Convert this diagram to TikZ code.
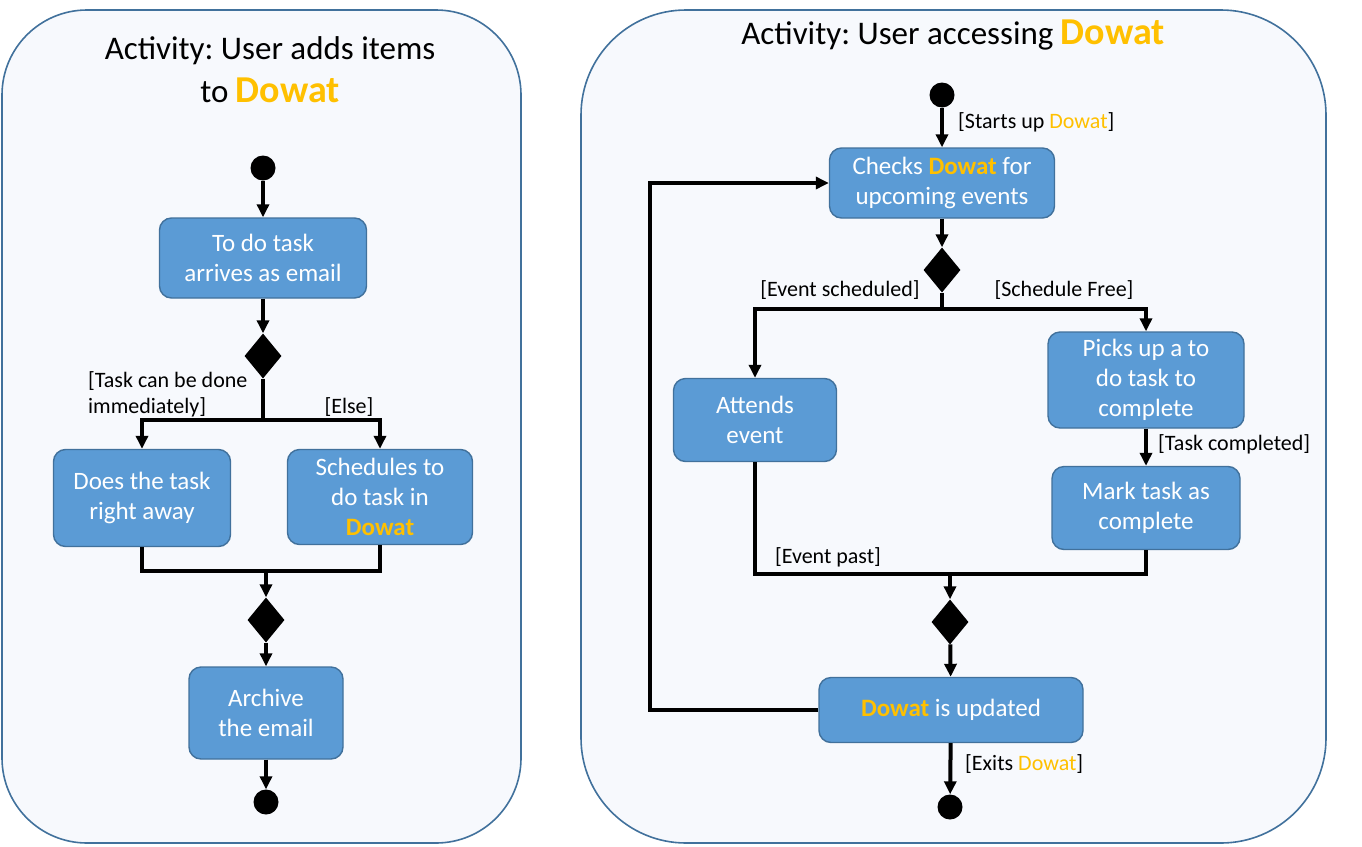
\documentclass[tikz,border=0pt]{standalone}
\usepackage{fontspec}
\setmainfont{Carlito}
\usepackage{xcolor}
\usetikzlibrary{shapes.geometric}
\usetikzlibrary{arrows.meta}
\definecolor{boxblue}{HTML}{5B9BD5}
\definecolor{boxedge}{HTML}{41719C}
\definecolor{panelfill}{HTML}{F7F9FD}
\definecolor{dowatyellow}{HTML}{FFC000}
\newcommand{\dowat}{\textcolor{dowatyellow}{Dowat}}
\newcommand{\bigdowat}{{\fontsize{38}{43}\selectfont\bfseries\dowat}}
\frenchspacing

\begin{document}
\begin{tikzpicture}[
x = 1pt, y = -1pt,
panel/.style={rectangle, draw = boxedge, fill = panelfill, line width = 1.6pt},
actbox/.style={rectangle, align = center, 
draw = boxedge, fill = boxblue, line width = 1.4pt, text = white, rounded corners = 12pt,
font = \fontsize{25}{30}\selectfont}, 
decision/.style={diamond, fill = black, inner sep = 0pt, minimum width = 37pt, minimum height = 45pt},
dot/.style={circle, fill = black, inner sep = 0pt, minimum size = 25pt},
flowarr/.style={>={Triangle[length=13pt, width=12pt]}, ->, line width = 4pt, draw = black}, 
barline/.style={line width = 4pt, draw = black},
guard/.style={inner sep = 0pt, align = left, font = \fontsize{22}{26}\selectfont},
headline/.style={align = center, font = \fontsize{33}{43}\selectfont}]

\useasboundingbox (0,0) rectangle (1362,846);

\node[panel, rounded corners = 85pt, minimum width = 519pt, minimum height = 833pt] (leftpanel) at (261.5,426.5) {};
\node[panel, rounded corners = 105pt, minimum width = 745pt, minimum height = 833pt] (rightpanel) at (953.5,426.5) {};

% user adds items
\node[headline] (title1) at (270,70) {Activity: User adds items\\to \bigdowat};
\node[dot] (start1) at (263,168) {};
\node[actbox, minimum width = 207pt, minimum height = 80pt] (mail) at (263,258) {To do task\\arrives as email};
\node[decision] (D1) at (263,356) {};
\coordinate (fork1) at (263,420);
\node[actbox, minimum width = 177pt, minimum height = 97pt] (now) at (142,498) {Does the task\\right away};
\node[actbox, minimum width = 185pt, minimum height = 95pt] (sched) at (380,497) {Schedules to\\do task in\\{\bfseries\dowat}};
\coordinate (join1) at (266,571);
\node[decision] (D2) at (266,620) {};
\node[actbox, minimum width = 154pt, minimum height = 92pt] (arch) at (266,713) {Archive\\the email};
\node[dot] (end1) at (266,802) {};

\node[guard, anchor = west] (Gnow) at (88,394) {[Task can be done\\immediately]};
\node[guard] (Gelse) at (349,407) {[Else]};

\draw[flowarr] (start1) -- (mail);
\draw[flowarr] (mail) -- (D1);
\draw[barline] (D1) -- (fork1);
\draw[flowarr] (fork1) -| (now);
\draw[flowarr] (fork1) -| (sched);
\draw[barline] (now) |- (join1) -| (sched);
\draw[flowarr] (join1) -- (D2);
\draw[flowarr] (D2) -- (arch);
\draw[flowarr] (arch) -- (end1);

% user accessing
\node[headline] (title2) at (953,35) {Activity: User accessing \bigdowat};
\node[dot] (start2) at (942,95) {};
\node[actbox, minimum width = 225pt, minimum height = 70pt] (check) at (942,183) {Checks {\bfseries\dowat} for\\upcoming events};
\node[decision] (D3) at (942,270) {};
\coordinate (fork2) at (942,309);
\node[actbox, minimum width = 163pt, minimum height = 83pt] (attend) at (755,420) {Attends\\event};
\node[actbox, minimum width = 196pt, minimum height = 96pt] (pick) at (1146,380) {Picks up a to\\do task to\\complete};
\node[actbox, minimum width = 188pt, minimum height = 83pt] (mark) at (1146,508) {Mark task as\\complete};
\coordinate (join2) at (950,574);
\node[decision] (D4) at (950,622) {};
\node[actbox, minimum width = 264pt, minimum height = 65pt] (upd) at (951,710) {{\bfseries\dowat} is updated};
\node[dot] (end2) at (950,807) {};
\coordinate (loop) at (650,710);

\node[guard, anchor = west] (Gstart) at (958,122) {[Starts up \dowat]};
\node[guard] (Gevent) at (840,290) {[Event scheduled]};
\node[guard] (Gfree) at (1064,290) {[Schedule Free]};
\node[guard, anchor = west] (Gdone) at (1158,444) {[Task completed]};
\node[guard] (Gpast) at (828,557) {[Event past]};
\node[guard, anchor = west] (Gexit) at (965,764) {[Exits \dowat]};

\draw[flowarr] (start2) -- (check);
\draw[flowarr] (check) -- (D3);
\draw[barline] (D3) -- (fork2);
\draw[flowarr] (fork2) -| (attend);
\draw[flowarr] (fork2) -| (pick);
\draw[flowarr] (pick) -- (mark);
\draw[barline] (attend) |- (join2) -| (mark);
\draw[flowarr] (join2) -- (D4);
\draw[flowarr] (D4) -- (upd);
\draw[flowarr] (upd) -- (loop) |- (check);
\draw[flowarr] (upd) -- (end2);

\end{tikzpicture}
\end{document}
